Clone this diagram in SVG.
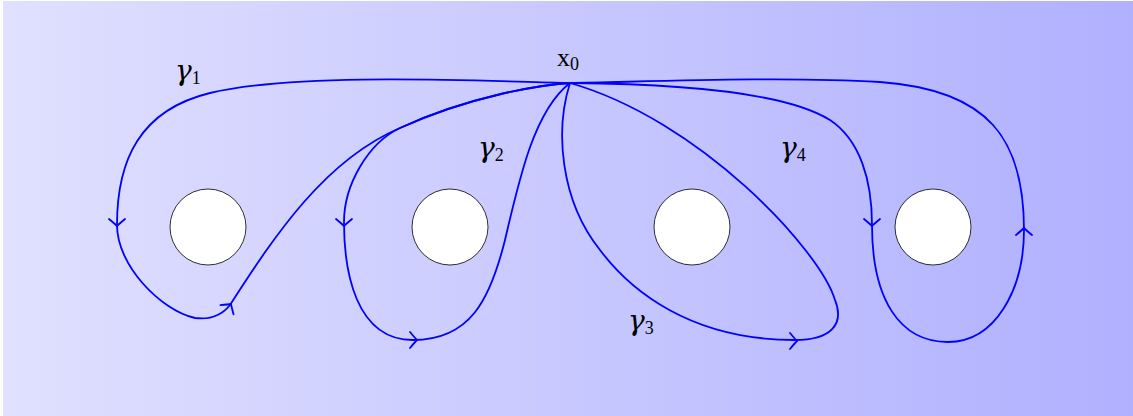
<svg xmlns="http://www.w3.org/2000/svg" width="1133" height="416" viewBox="0 0 1133 416">
<defs>
<linearGradient id="bg" x1="0" y1="0" x2="1" y2="0">
<stop offset="0" stop-color="#e0e0ff"/>
<stop offset="1" stop-color="#b0b0ff"/>
</linearGradient>
<path id="arr" d="M-7,-8 Q-2,-2 0,0 Q-2,2 -7,8"/>
<style>
.loop{fill:none;stroke:#0000ff;stroke-width:1.8;stroke-linejoin:round}
.tip{fill:none;stroke:#0000ff;stroke-width:1.8;stroke-linecap:round}
.hole{fill:#ffffff;stroke:#000000;stroke-width:0.8}
.lbl{font-family:"Liberation Serif",serif;font-size:26px;fill:#000000}
.g{font-family:"DejaVu Serif",serif;font-style:italic;font-size:28px}
.sub{font-family:"Liberation Serif",serif;font-size:18px;font-style:normal}
</style>
</defs>
<rect x="3" y="1" width="1130" height="415" fill="url(#bg)"/>
<g id="holes">
<circle id="hole1" class="hole" cx="208" cy="227" r="38"/>
<circle id="hole2" class="hole" cx="450" cy="227" r="38"/>
<circle id="hole3" class="hole" cx="692" cy="227" r="38"/>
<circle id="hole4" class="hole" cx="933" cy="227" r="38"/>
</g>
<g id="connectors">
<path id="gamma1" class="loop" d="M570,83 C480,81 300,72 210,93 C140,110 117,160 117,225 C117,265 160,310 195,318 C210,320 222,315 230,305 C275,235 325,160 400,128 C470,96 540,85 570,83"/>
<path id="gamma2" class="loop" d="M570,83 C540,85 470,96 400,128 C368,143 344,185 344,222 C344,270 355,340 413,340 C470,340 490,300 505,240 C520,175 535,110 570,83"/>
<path id="gamma3" class="loop" d="M570,83 C555,130 560,200 600,250 C630,290 690,340 795,340 C830,340 845,325 835,300 C820,250 700,120 570,83"/>
<path id="gamma4" class="loop" d="M570,83 C700,84 790,95 830,120 C860,140 872,180 872,225 C872,300 900,342 948,342 C995,342 1024,290 1024,230 C1024,140 990,90 880,82 C780,76 640,82 570,83"/>
<use href="#arr" class="tip" transform="translate(117,226) rotate(90)"/>
<use href="#arr" class="tip" transform="translate(231,304) rotate(-55)"/>
<use href="#arr" class="tip" transform="translate(344,226) rotate(90)"/>
<use href="#arr" class="tip" transform="translate(417,340)"/>
<use href="#arr" class="tip" transform="translate(797,341)"/>
<use href="#arr" class="tip" transform="translate(872,226) rotate(90)"/>
<use href="#arr" class="tip" transform="translate(1024,228) rotate(-90)"/>
</g>
<g id="labels">
<text id="x0" class="lbl" x="557" y="66">x<tspan class="sub" dy="4">0</tspan></text>
<text id="g1" class="lbl" x="175" y="80"><tspan class="g">γ</tspan><tspan class="sub" dy="4">1</tspan></text>
<text id="g2" class="lbl" x="478" y="157"><tspan class="g">γ</tspan><tspan class="sub" dy="4">2</tspan></text>
<text id="g3" class="lbl" x="628" y="330"><tspan class="g">γ</tspan><tspan class="sub" dy="4">3</tspan></text>
<text id="g4" class="lbl" x="780" y="157"><tspan class="g">γ</tspan><tspan class="sub" dy="4">4</tspan></text>
</g>
</svg>
